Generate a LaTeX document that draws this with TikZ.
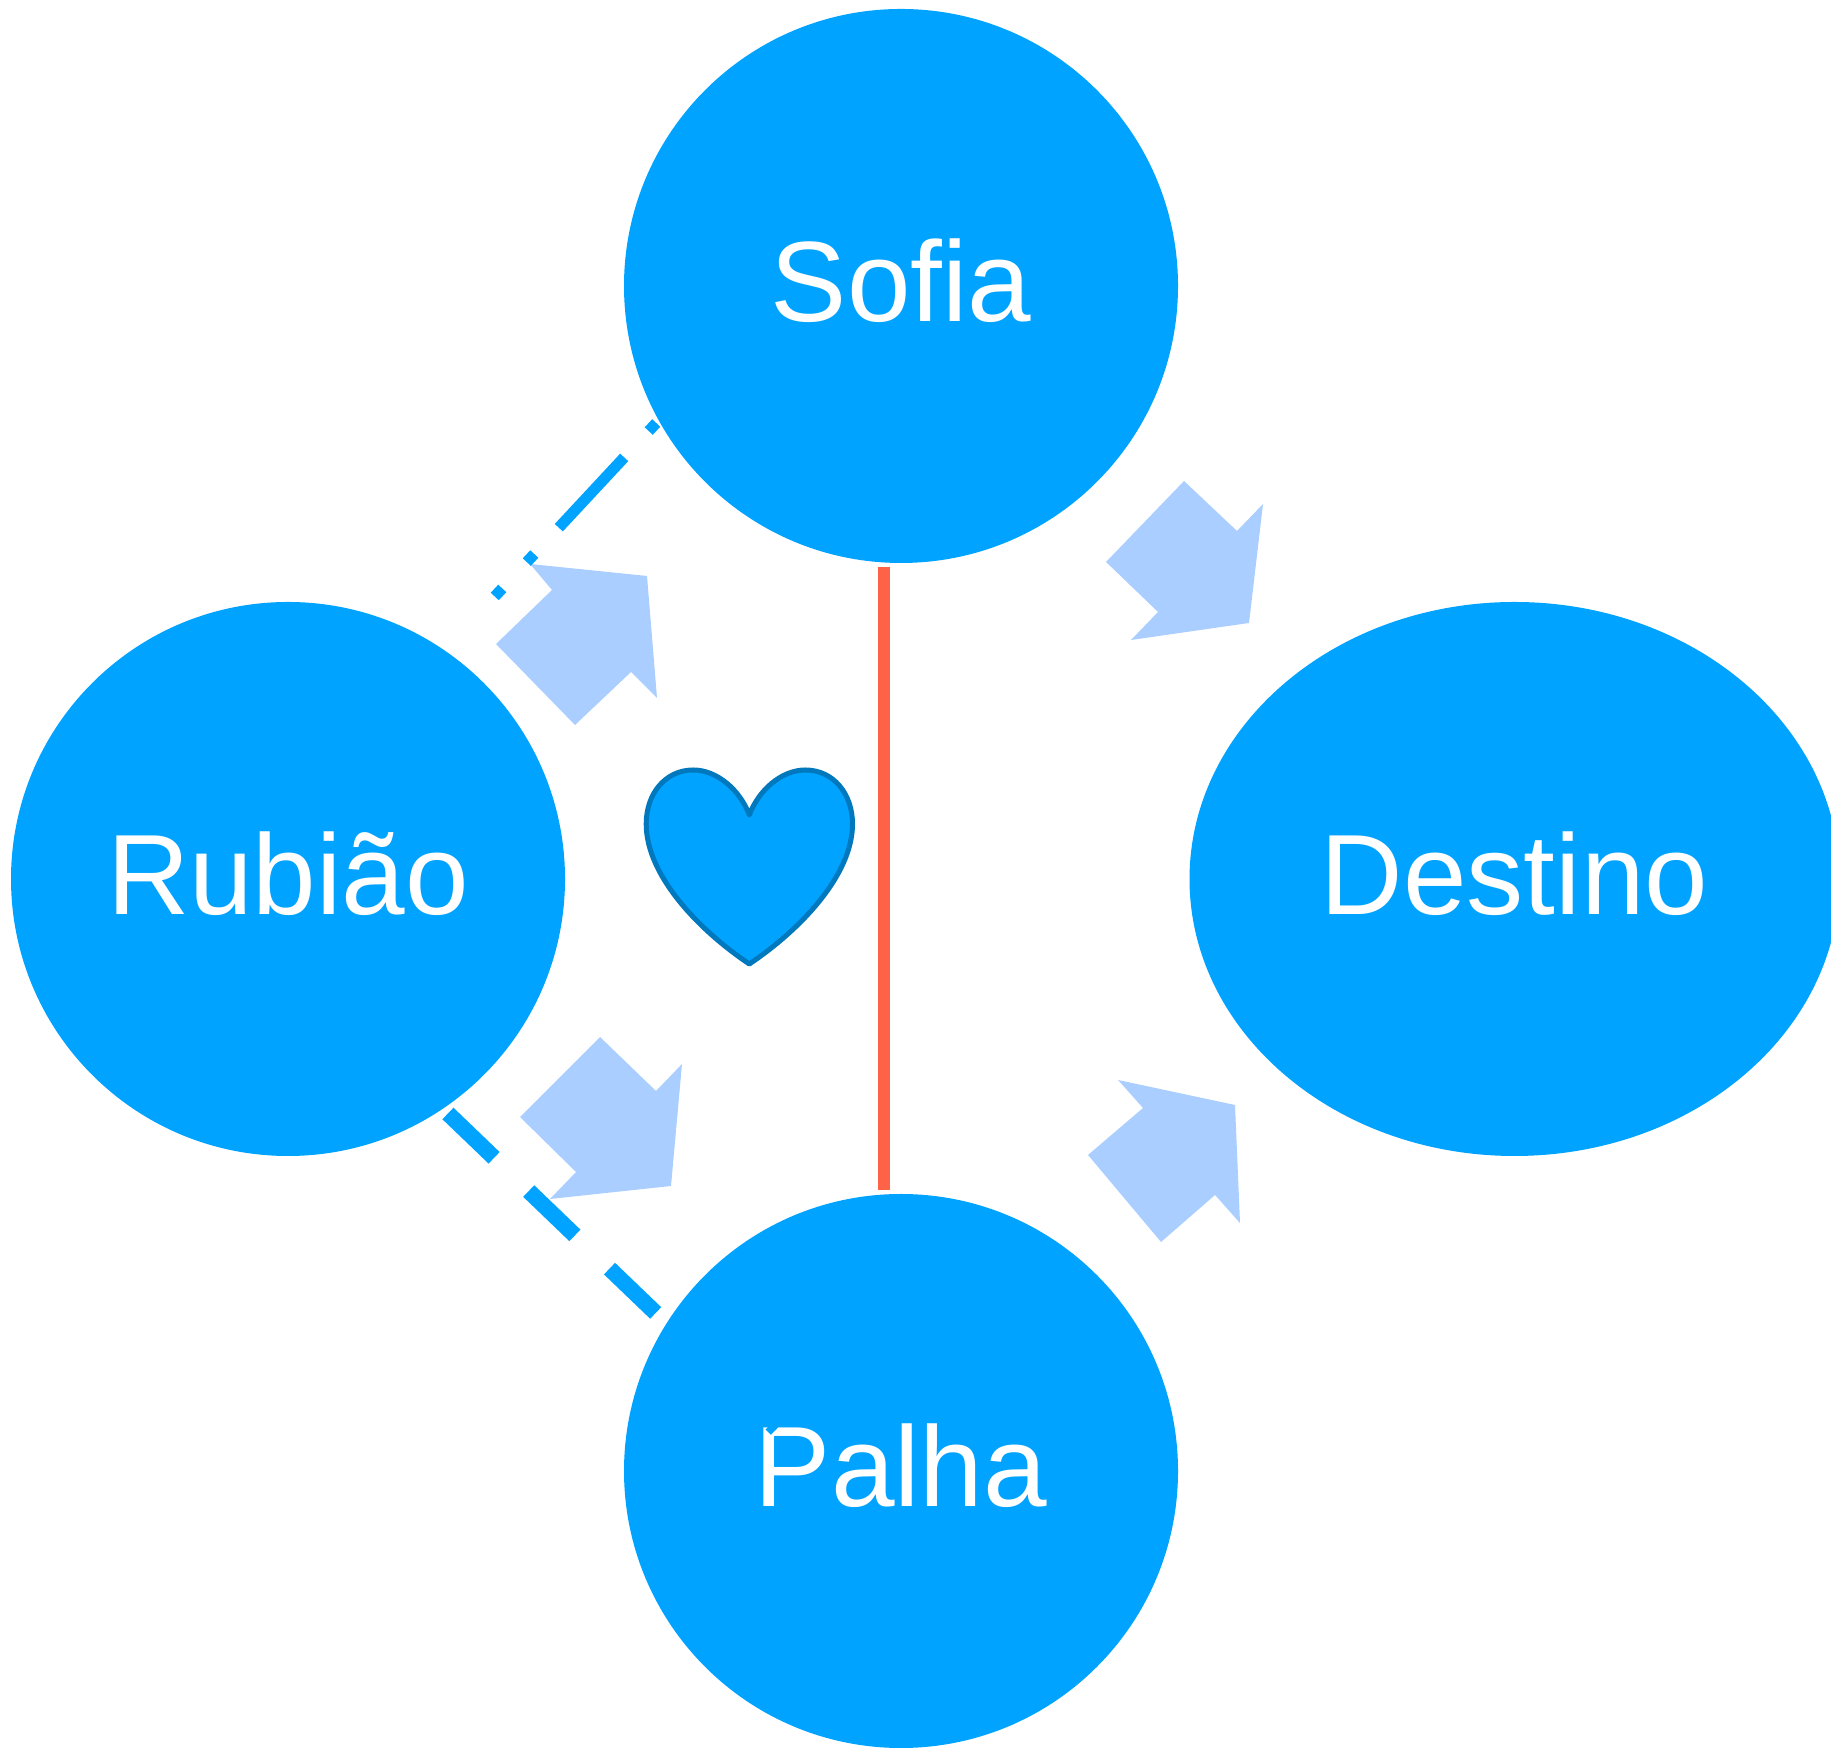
\documentclass[tikz,border=0pt]{standalone}
\usepackage{fontspec}
\setmainfont{Liberation Sans}[Ligatures=NoCommon]
\usetikzlibrary{shapes.geometric}

\tikzset{
    bubble/.style={shape=circle,fill=borba_blue,inner sep=0pt,outer sep=0pt,minimum size=5.54cm,text=white,text height=0.87cm,text depth=0.16cm,font=\fontsize{32.5}{38}\selectfont},
    bubble_wide/.style={bubble,shape=ellipse,minimum width=6.5cm,minimum height=5.54cm},
    pointer/.style={fill=borba_pale},
    dotlink/.style={draw=borba_blue,line width=0.11cm,dash pattern=on 0.11cm off 0.36cm on 0.96cm off 0.36cm on 0.11cm off 0.36cm on 0.11cm off 0.36cm,dash phase=2.693cm},
    dashlink/.style={draw=borba_blue,line width=0.16cm,dash pattern=on 0.64cm off 0.48cm,dash phase=1.05cm},
    barlink/.style={draw=borba_red,line width=0.12cm,shorten <=0.045cm,shorten >=0.04cm}
}

\begin{document}
\begin{tikzpicture}
    \definecolor{borba_blue}{RGB}{0,163,255}
    \definecolor{borba_pale}{RGB}{170,206,255}
    \definecolor{borba_red}{RGB}{255,99,71}
    \definecolor{borba_edge}{RGB}{0,120,190}
    \clip (0,0.01) rectangle (18.31,17.48);

    \fill[pointer] (5.30,11.84) -- (6.47,11.72) -- (6.57,10.50) -- (6.31,10.76) -- (5.75,10.23) -- (4.96,11.04) -- (5.52,11.58) -- cycle;
    \fill[pointer] (11.84,12.67) -- (12.37,12.17) -- (12.63,12.44) -- (12.49,11.25) -- (11.31,11.08) -- (11.58,11.36) -- (11.06,11.86) -- cycle;
    \fill[pointer] (11.18,6.68) -- (12.35,6.43) -- (12.40,5.25) -- (12.15,5.53) -- (11.61,5.06) -- (10.88,5.93) -- (11.43,6.40) -- cycle;
    \fill[pointer] (6.00,7.11) -- (6.56,6.57) -- (6.82,6.84) -- (6.71,5.62) -- (5.50,5.49) -- (5.76,5.76) -- (5.20,6.31) -- cycle;

    \node[bubble] (sofia) at (9.01,14.62) { Sofia };
    \node[bubble] (rubiao) at (2.88,8.69) { Rubião };
    \node[bubble] (palha) at (9.01,2.77) { Palha };
    \node[bubble_wide] (destino) at (15.145,8.69) { Destino };

    \draw[fill=borba_blue,draw=borba_edge,line width=0.05cm,line join=round] (7.493,9.33)
        .. controls (7.40,9.58) and (7.17,9.78) .. (6.933,9.78)
        .. controls (6.65,9.78) and (6.462,9.54) .. (6.462,9.24)
        .. controls (6.462,8.72) and (7.00,8.17) .. (7.493,7.84)
        .. controls (7.986,8.17) and (8.525,8.72) .. (8.525,9.24)
        .. controls (8.525,9.54) and (8.336,9.78) .. (8.053,9.78)
        .. controls (7.816,9.78) and (7.586,9.58) .. (7.493,9.33) -- cycle;

    \coordinate (rubiao_tip) at (4.943,11.51);
    \coordinate (palha_tip) at (7.765,3.19);
    \draw[barlink] ([xshift=-0.17cm]sofia.south) -- ([xshift=-0.17cm]palha.north);
    \draw[dotlink] (sofia.209) -- (rubiao_tip);
    \draw[dashlink] (rubiao.-56.1) -- (palha_tip);
\end{tikzpicture}
\end{document}
